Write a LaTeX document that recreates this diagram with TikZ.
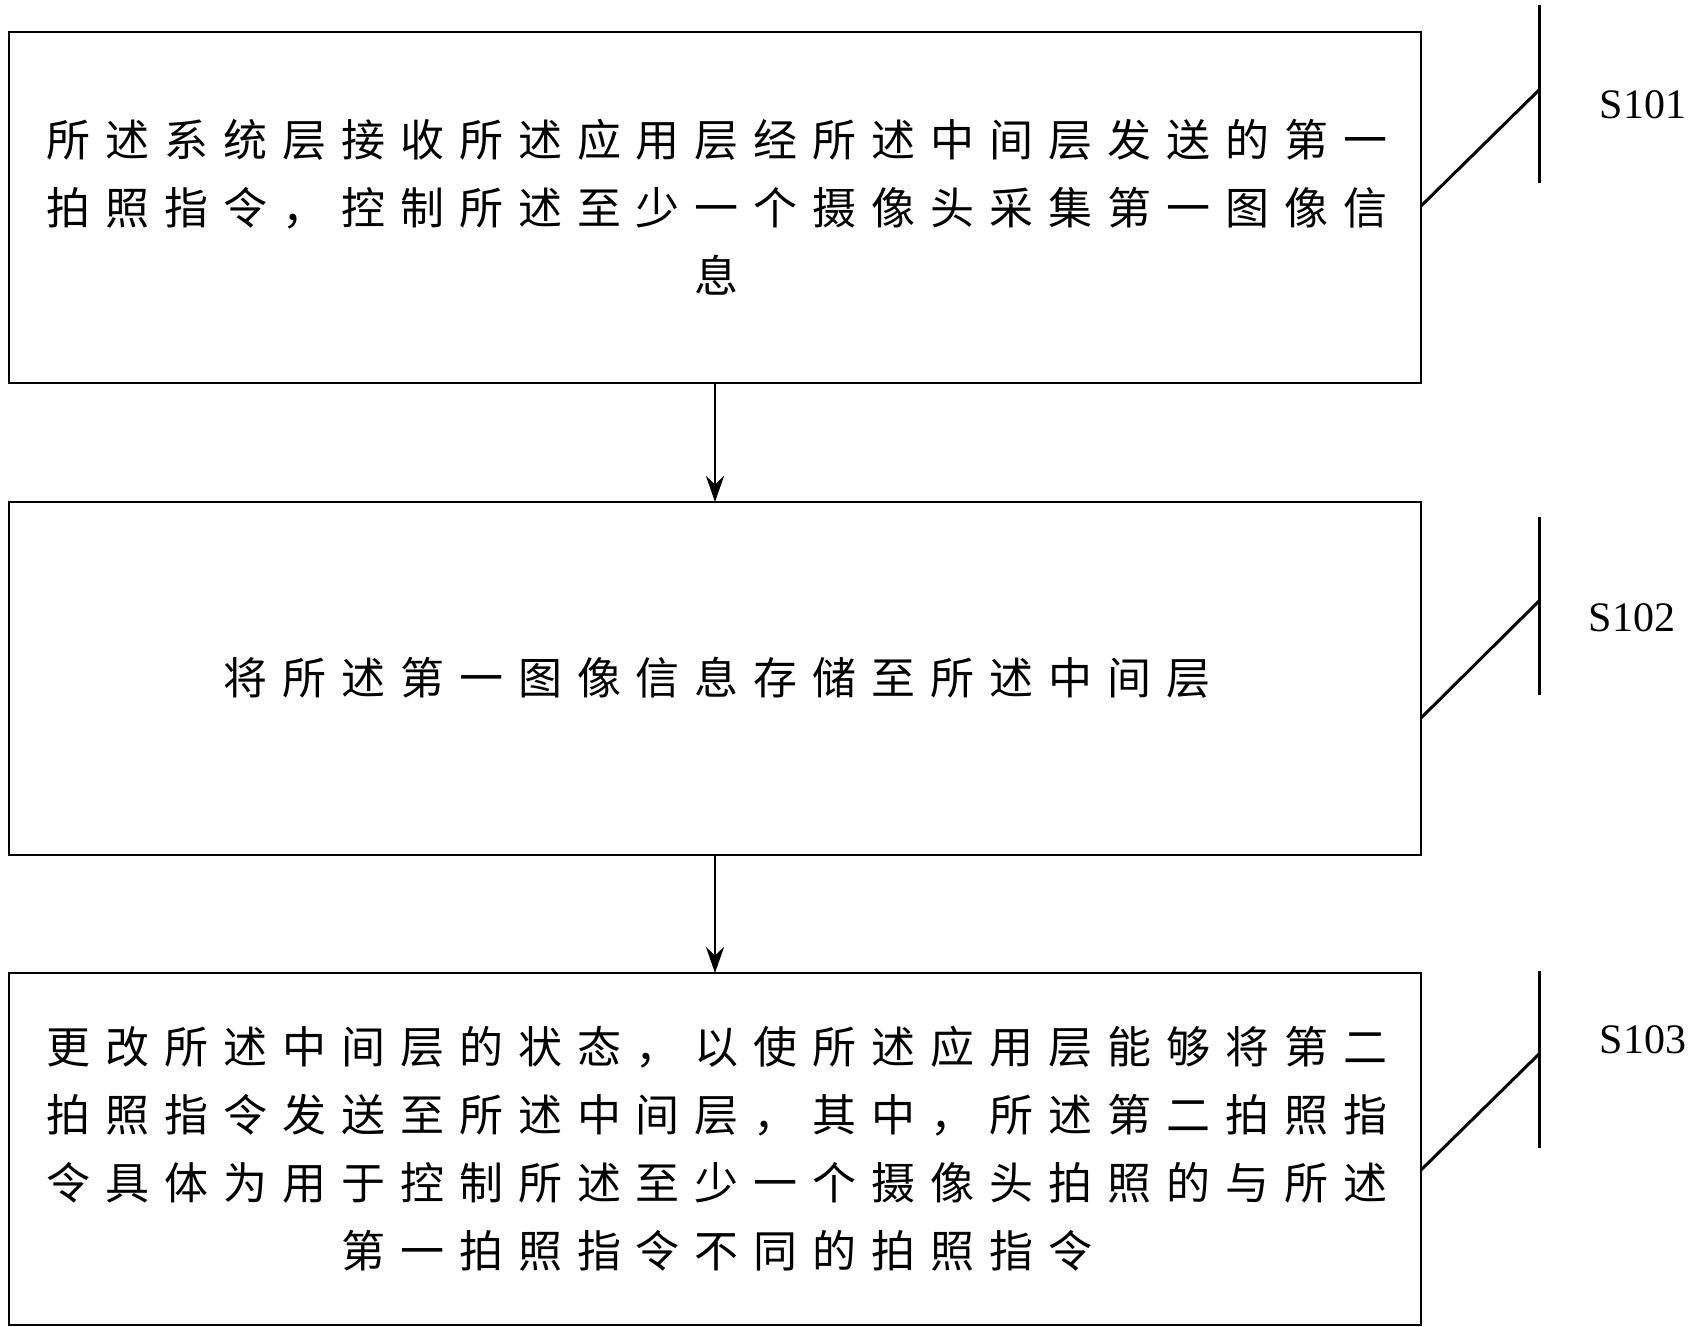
\documentclass[tikz,border=0pt]{standalone}
\usepackage{fontspec}
\setmainfont{Liberation Serif}
\newfontfamily\cjk[LetterSpace=34]{Noto Sans CJK SC}
\usetikzlibrary{arrows.meta}
\begin{document}
\begin{tikzpicture}[x=1pt,y=-1pt,
  box/.style={draw,line width=1.2pt},
  txt/.style={align=center,font=\cjk\fontsize{44}{68}\selectfont},
  lbl/.style={font=\fontsize{42}{42}\selectfont},
  mk/.style={line width=3pt},
  arr/.style={line width=2.6pt,-{Stealth[length=26pt,width=18pt]}}]
\useasboundingbox (0,0) rectangle (1695,1327);
\draw[box] (9,32) rectangle (1421,383);
\draw[box] (9,502) rectangle (1421,855);
\draw[box] (9,973) rectangle (1421,1325);
\node[txt] (t1) at (717,207) {所述系统层接收所述应用层经所述中间层发送的第一\\拍照指令，控制所述至少一个摄像头采集第一图像信\\息};
\node[txt] (t2) at (717,678) {将所述第一图像信息存储至所述中间层};
\node[txt] (t3) at (717,1149) {更改所述中间层的状态，以使所述应用层能够将第二\\拍照指令发送至所述中间层，其中，所述第二拍照指\\令具体为用于控制所述至少一个摄像头拍照的与所述\\第一拍照指令不同的拍照指令};
\coordinate (a1) at (715,383); \coordinate (b1) at (715,502);
\coordinate (a2) at (715,855); \coordinate (b2) at (715,973);
\draw[arr] (a1) -- (b1);
\draw[arr] (a2) -- (b2);
\draw[mk] (1539,5) -- (1539,183); \draw[mk] (1421,206) -- (1539,90);
\draw[mk] (1539,517) -- (1539,695); \draw[mk] (1421,718) -- (1539,601);
\draw[mk] (1539,971) -- (1539,1148); \draw[mk] (1421,1170) -- (1539,1054);
\node[lbl] (s1) at (1643,105) {S101};
\node[lbl] (s2) at (1632,618) {S102};
\node[lbl] (s3) at (1643,1040) {S103};
\end{tikzpicture}
\end{document}
